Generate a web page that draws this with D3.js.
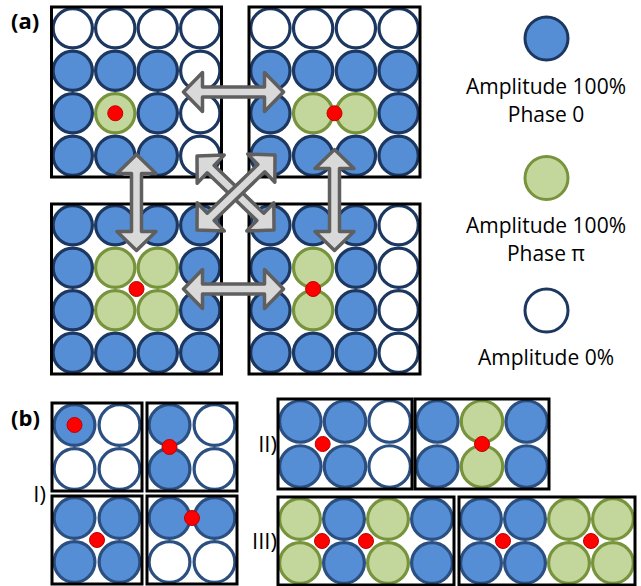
<!DOCTYPE html>
<html>
<head>
<meta charset="utf-8">
<script src="https://cdn.jsdelivr.net/npm/d3@7"></script>
<style>
  body { margin: 0; background: #fff; }
  svg text { font-family: "Open Sans", sans-serif; fill: #000; }
</style>
</head>
<body>
<div id="fig"></div>
<script>
// Cell states: B = amplitude 100% phase 0, G = amplitude 100% phase pi, W = amplitude 0%
var panelAGrids = [
	["WWWW", "BBBW", "BGBW", "BBBW"],
	["WWWW", "BBBB", "BGGB", "BBBB"],
	["BBBB", "BGGB", "BGGB", "BBBB"],
	["BBBW", "BGBW", "BGBW", "BBBW"]
];
// red dot positions, in grid units [col, row]
var panelADots = [
	[[1.5, 2.5]],
	[[2, 2.5]],
	[[2, 2]],
	[[1.5, 2]]
];

var panelBGrids = [
	["BW", "WW"],
	["BW", "BW"],
	["BB", "BB"],
	["BB", "WW"],
	["BBW", "BBW"],
	["BGB", "BGB"],
	["GBGB", "GBGB"],
	["BBGG", "BBGG"]
];
var panelBDots = [
	[[0.5, 0.5]],
	[[0.5, 1]],
	[[1, 1]],
	[[1, 0.5]],
	[[1, 1]],
	[[1.5, 1]],
	[[1, 1], [2, 1]],
	[[1, 1], [3, 1]]
];
var groupLabels = ["I)", "II)", "III)"];

var legendStates = ["B", "G", "W"];
var legendLabels = [
	["Amplitude 100%", "Phase 0"],
	["Amplitude 100%", "Phase \u03c0"],
	["Amplitude 0%"]
];

// ---- layout & styles ----
var W = 641, H = 586;
var fills   = { B: "#558ed5", G: "#c3d69b", W: "#ffffff" };
var strokes = { B: "#1c3760", G: "#77933c", W: "#1c3760" };
var strokesB = { B: "#2b4f80", G: "#77933c", W: "#2b4f80" };

var boxesA = [
	{x: 51.5, y: 7,   w: 170, h: 170},
	{x: 249,  y: 7,   w: 171, h: 170},
	{x: 51.5, y: 204, w: 170, h: 170},
	{x: 249,  y: 204, w: 171, h: 170}
];
var boxesB = [
	{x: 52,  y: 403, w: 90,  h: 88},
	{x: 147, y: 403, w: 90,  h: 88},
	{x: 52,  y: 496, w: 90,  h: 88},
	{x: 147, y: 496, w: 90,  h: 88},
	{x: 278, y: 399, w: 134, h: 90},
	{x: 415, y: 399, w: 134, h: 90},
	{x: 278, y: 497, w: 176, h: 88},
	{x: 459, y: 497, w: 176, h: 88}
];

var svg = d3.select("#fig").append("svg")
	.attr("width", W)
	.attr("height", H);

function drawGrid(box, rows, dots, strokeMap) {
	var nCols = rows[0].length, nRows = rows.length;
	var xs = d3.scaleLinear().domain([0, nCols]).range([box.x, box.x + box.w]);
	var ys = d3.scaleLinear().domain([0, nRows]).range([box.y, box.y + box.h]);
	var cell = Math.min(box.w / nCols, box.h / nRows);
	var cells = [];
	rows.forEach(function(r, ri) {
		r.split("").forEach(function(s, ci) { cells.push({r: ri, c: ci, s: s}); });
	});
	var g = svg.append("g");
	g.append("rect")
		.attr("x", box.x).attr("y", box.y)
		.attr("width", box.w).attr("height", box.h)
		.attr("fill", "#fff");
	g.selectAll("circle.cell")
		.data(cells)
		.enter()
		.append("circle")
		.attr("class", "cell")
		.attr("cx", function(d) { return xs(d.c + 0.5); })
		.attr("cy", function(d) { return ys(d.r + 0.5); })
		.attr("r", cell / 2 - 1.6)
		.attr("fill", function(d) { return fills[d.s]; })
		.attr("stroke", function(d) { return strokeMap[d.s]; })
		.attr("stroke-width", 3.2);
	g.append("rect")
		.attr("x", box.x).attr("y", box.y)
		.attr("width", box.w).attr("height", box.h)
		.attr("fill", "none")
		.attr("stroke", "#000")
		.attr("stroke-width", 3);
	g.selectAll("circle.dot")
		.data(dots)
		.enter()
		.append("circle")
		.attr("class", "dot")
		.attr("cx", function(d) { return xs(d[0]); })
		.attr("cy", function(d) { return ys(d[1]); })
		.attr("r", 7.5)
		.attr("fill", "#ff0000")
		.attr("stroke", "#c00000")
		.attr("stroke-width", 1);
}

panelAGrids.forEach(function(rows, i) { drawGrid(boxesA[i], rows, panelADots[i], strokes); });
panelBGrids.forEach(function(rows, i) { drawGrid(boxesB[i], rows, panelBDots[i], strokesB); });

// ---- double-headed arrows ----
var arrows = [
	{x1: 183.5, y1: 92,  x2: 283.5, y2: 92},
	{x1: 183.5, y1: 289, x2: 283.5, y2: 289},
	{x1: 136.5, y1: 154.5, x2: 136.5, y2: 250.5},
	{x1: 334.5, y1: 149.5, x2: 334.5, y2: 250.5},
	{x1: 197, y1: 156, x2: 274, y2: 230},
	{x1: 275, y1: 155, x2: 197, y2: 230}
];
var hl = 19, hw = 19.5, sw = 5;
var line = d3.line();
arrows.forEach(function(a) {
	var L = Math.hypot(a.x2 - a.x1, a.y2 - a.y1);
	var ang = Math.atan2(a.y2 - a.y1, a.x2 - a.x1) * 180 / Math.PI;
	var pts = [[0, 0], [hl, -hw], [hl, -sw], [L - hl, -sw], [L - hl, -hw], [L, 0],
	           [L - hl, hw], [L - hl, sw], [hl, sw], [hl, hw]];
	svg.append("path")
		.attr("d", line(pts) + "Z")
		.attr("transform", "translate(" + a.x1 + "," + a.y1 + ") rotate(" + ang + ")")
		.attr("fill", "#d9d9d9")
		.attr("stroke", "#5f5f5f")
		.attr("stroke-width", 3.5)
		.attr("stroke-linejoin", "round");
});

// ---- legend ----
var legendCy = [38.5, 178, 310.5];
var legendBase = [[94, 122], [233, 261], [365]];
legendStates.forEach(function(s, i) {
	svg.append("circle")
		.attr("cx", 546.5)
		.attr("cy", legendCy[i])
		.attr("r", 21.5)
		.attr("fill", fills[s])
		.attr("stroke", strokes[s])
		.attr("stroke-width", 3);
	legendLabels[i].forEach(function(t, j) {
		svg.append("text")
			.attr("x", 546)
			.attr("y", legendBase[i][j])
			.attr("text-anchor", "middle")
			.style("font-size", "21px")
			.text(t);
	});
});

// ---- panel labels ----
svg.append("text").attr("x", 11).attr("y", 29)
	.style("font-size", "22px").style("font-weight", "bold").text("(a)");
svg.append("text").attr("x", 11).attr("y", 426)
	.style("font-size", "22px").style("font-weight", "bold").text("(b)");

var groupPos = [[46, 502], [277, 452], [277, 549]];
groupLabels.forEach(function(t, i) {
	svg.append("text")
		.attr("x", groupPos[i][0])
		.attr("y", groupPos[i][1])
		.attr("text-anchor", "end")
		.style("font-size", "22px")
		.text(t);
});
</script>
</body>
</html>
